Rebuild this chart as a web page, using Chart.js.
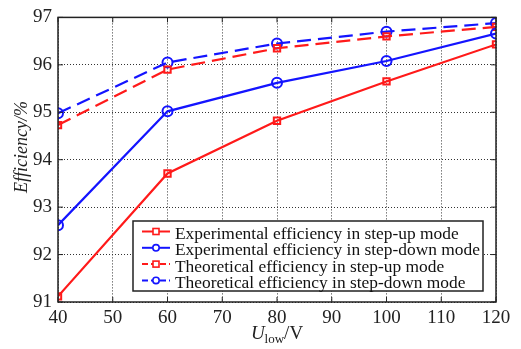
<!DOCTYPE html>
<html>
<head>
<meta charset="utf-8">
<script src="https://cdn.jsdelivr.net/npm/chart.js@4"></script>
<style>
  html, body { margin: 0; padding: 0; background: #fff; }
  #wrap { width: 521px; height: 349px; }
</style>
</head>
<body>
<div id="wrap"><canvas id="myChart" width="521" height="349"></canvas></div>
<script>
var voltages = [40, 60, 80, 100, 120];
var expStepUp = [91.12, 93.71, 94.82, 95.65, 96.43];
var expStepDown = [92.62, 95.02, 95.62, 96.08, 96.66];
var theoStepUp = [94.73, 95.90, 96.35, 96.60, 96.80];
var theoStepDown = [94.98, 96.05, 96.45, 96.70, 96.88];
var seriesLabels = [
  'Experimental efficiency in step-up mode',
  'Experimental efficiency in step-down mode',
  'Theoretical efficiency in step-up mode',
  'Theoretical efficiency in step-down mode'
];
var xTicks = [40, 50, 60, 70, 80, 90, 100, 110, 120];
var yTicks = [91, 92, 93, 94, 95, 96, 97];

var FONT = "'Times New Roman', 'Liberation Serif', Times, serif";

function toPoints(vals) {
  return voltages.map((v, i) => ({ x: v, y: vals[i] }));
}

function makeSet(label, vals, color, style, dashed) {
  return {
    label: label,
    data: toPoints(vals),
    borderColor: color,
    backgroundColor: 'rgba(0,0,0,0)',
    borderWidth: 2.2,
    borderDash: dashed ? [14, 7] : [],
    pointStyle: style,
    pointRadius: style === 'circle' ? 5 : 4.5,
    pointBorderWidth: 2,
    pointBorderColor: color,
    pointBackgroundColor: 'rgba(0,0,0,0)',
    tension: 0
  };
}

// frame, axis titles and legend box drawn on top
var extras = {
  id: 'extras',
  afterDatasetsDraw(chart) {
    var ctx = chart.ctx;
    var a = chart.chartArea;
    ctx.save();
    ctx.setLineDash([]);
    ctx.strokeStyle = '#222';
    ctx.lineWidth = 1.5;
    ctx.strokeRect(a.left, a.top, a.right - a.left, a.bottom - a.top);

    // small inside ticks
    ctx.lineWidth = 1;
    var xs = chart.scales.x, ys = chart.scales.y;
    xTicks.forEach(t => {
      var px = xs.getPixelForValue(t);
      ctx.beginPath();
      ctx.moveTo(px, a.bottom); ctx.lineTo(px, a.bottom - 5);
      ctx.moveTo(px, a.top); ctx.lineTo(px, a.top + 5);
      ctx.stroke();
    });
    yTicks.forEach(t => {
      var py = ys.getPixelForValue(t);
      ctx.beginPath();
      ctx.moveTo(a.left, py); ctx.lineTo(a.left + 5, py);
      ctx.moveTo(a.right, py); ctx.lineTo(a.right - 5, py);
      ctx.stroke();
    });

    // y axis title
    ctx.fillStyle = '#222';
    ctx.save();
    ctx.translate(22, 147);
    ctx.rotate(-Math.PI / 2);
    ctx.font = 'italic 18px ' + FONT;
    ctx.textAlign = 'center';
    ctx.textBaseline = 'middle';
    ctx.fillText('Efficiency/%', 0, 0);
    ctx.restore();

    // x axis title: U_low/V
    ctx.textBaseline = 'alphabetic';
    var cx = (a.left + a.right) / 2;
    var by = 339;
    ctx.font = 'italic 19px ' + FONT;
    var wU = ctx.measureText('U').width;
    ctx.font = '13px ' + FONT;
    var wLow = ctx.measureText('low').width;
    ctx.font = '19px ' + FONT;
    var wV = ctx.measureText('/V').width;
    var x0 = cx - (wU + wLow + wV) / 2;
    ctx.font = 'italic 19px ' + FONT;
    ctx.fillText('U', x0, by);
    ctx.font = '13px ' + FONT;
    ctx.fillText('low', x0 + wU, by + 4);
    ctx.font = '19px ' + FONT;
    ctx.fillText('/V', x0 + wU + wLow, by);

    // legend box
    var lx = 133, ly = 221, lw = 350, lh = 70;
    ctx.fillStyle = '#fff';
    ctx.fillRect(lx, ly, lw, lh);
    ctx.strokeStyle = '#222';
    ctx.lineWidth = 1.5;
    ctx.strokeRect(lx, ly, lw, lh);
    ctx.font = '17.4px ' + FONT;
    ctx.textBaseline = 'middle';
    chart.data.datasets.forEach((ds, i) => {
      var ry = ly + 10.5 + i * 16.3;
      ctx.strokeStyle = ds.borderColor;
      ctx.lineWidth = 2;
      ctx.setLineDash(ds.borderDash.length ? [6, 3] : []);
      ctx.beginPath();
      ctx.moveTo(lx + 9, ry); ctx.lineTo(lx + 37, ry);
      ctx.stroke();
      ctx.setLineDash([]);
      ctx.lineWidth = 1.6;
      if (ds.pointStyle === 'circle') {
        ctx.fillStyle = '#fff';
        ctx.beginPath();
        ctx.arc(lx + 23, ry, 3.2, 0, Math.PI * 2);
        ctx.fill();
        ctx.stroke();
      } else {
        ctx.fillStyle = '#fff';
        ctx.fillRect(lx + 20, ry - 3, 6, 6);
        ctx.strokeRect(lx + 20, ry - 3, 6, 6);
      }
      ctx.fillStyle = '#111';
      ctx.fillText(ds.label, lx + 42, ry + 3);
    });
    ctx.restore();
  }
};

var ctx = document.getElementById('myChart').getContext('2d');
var myChart = new Chart(ctx, {
  type: 'line',
  data: {
    datasets: [
      makeSet(seriesLabels[0], expStepUp, '#ff1a1a', 'rect', false),
      makeSet(seriesLabels[1], expStepDown, '#1414ff', 'circle', false),
      makeSet(seriesLabels[2], theoStepUp, '#ff1a1a', 'rect', true),
      makeSet(seriesLabels[3], theoStepDown, '#1414ff', 'circle', true)
    ]
  },
  options: {
    responsive: false,
    animation: false,
    layout: { padding: { top: 8, right: 25, left: 0, bottom: 0 } },
    plugins: {
      legend: { display: false },
      tooltip: { enabled: false }
    },
    scales: {
      x: {
        type: 'linear',
        min: 40,
        max: 120,
        afterBuildTicks: s => { s.ticks = xTicks.map(v => ({ value: v })); },
        ticks: {
          color: '#222',
          font: { family: FONT, size: 19 },
          padding: 5,
          maxRotation: 0
        },
        grid: { color: '#333', lineWidth: 1, drawTicks: false },
        border: { display: false, dash: [1, 2] },
        afterFit: s => { s.height = 47; }
      },
      y: {
        type: 'linear',
        min: 91,
        max: 97,
        afterBuildTicks: s => { s.ticks = yTicks.map(v => ({ value: v })); },
        ticks: {
          color: '#222',
          font: { family: FONT, size: 19 },
          padding: 6
        },
        grid: { color: '#333', lineWidth: 1, drawTicks: false },
        border: { display: false, dash: [1, 2] },
        afterFit: s => { s.width = 58; }
      }
    }
  },
  plugins: [extras]
});
</script>
</body>
</html>
